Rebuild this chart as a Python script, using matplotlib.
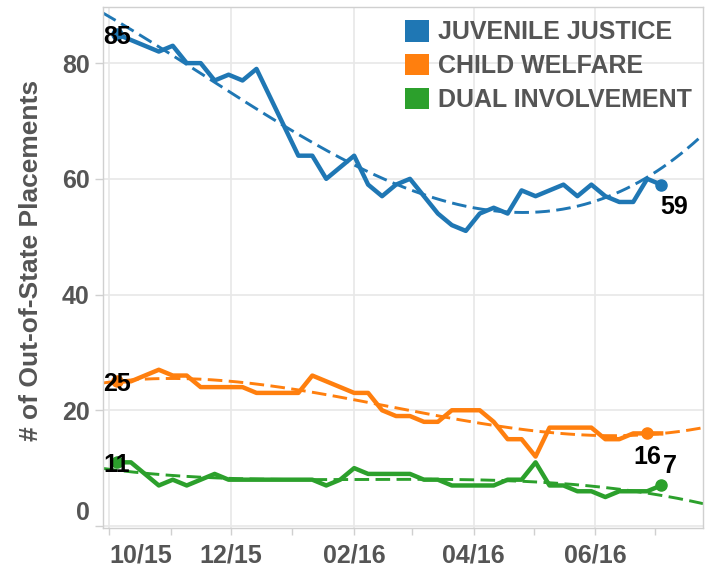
import numpy as np
import pandas as pd
import matplotlib.pyplot as plt
import matplotlib.dates as mdates
from matplotlib.patches import Patch

plt.rcParams['font.family'] = ['Liberation Sans', 'DejaVu Sans']
plt.rcParams['font.weight'] = 'bold'

# weekly counts, Oct 2015 - Jul 2016
weeks = pd.date_range("2015-10-05", periods=40, freq="7D")
juvenile = [85, 84, 83, 82, 83, 80, 80, 77, 78, 77, 79, 74, 69, 64, 64, 60, 62, 64, 59, 57,
            59, 60, 57, 54, 52, 51, 54, 55, 54, 58, 57, 58, 59, 57, 59, 57, 56, 56, 60, 59]
welfare = [25, 25, 26, 27, 26, 26, 24, 24, 24, 24, 23, 23, 23, 23, 26, 25, 24, 23, 23, 20,
           19, 19, 18, 18, 20, 20, 20, 18, 15, 15, 12, 17, 17, 17, 17, 15, 15, 16, 16, 16]
dual = [11, 11, 9, 7, 8, 7, 8, 9, 8, 8, 8, 8, 8, 8, 8, 7, 8, 10, 9, 9,
        9, 9, 8, 8, 7, 7, 7, 7, 8, 8, 11, 7, 7, 6, 6, 5, 6, 6, 6, 7]

names = ["JUVENILE JUSTICE", "CHILD WELFARE", "DUAL INVOLVEMENT"]
colors = ["#1f77b4", "#ff7f0e", "#2ca02c"]
trend_deg = [3, 3, 3]
end_marker_idx = [39, 38, 39]
end_offsets = [(9.5, -16), (0, -17), (6, 14)]

x_start = pd.Timestamp("2015-09-28")
x_end = pd.Timestamp("2016-07-25")
grey = "#555555"

fig = plt.figure(figsize=(7.12, 5.69), dpi=100)
ax = fig.add_axes([103 / 712, 1 - 528 / 569, 600 / 712, 521 / 569])

days = np.asarray((weeks - weeks[0]).days, dtype=float)
t = np.linspace((x_start - weeks[0]).days, (x_end - weeks[0]).days, 300)
t_dates = weeks[0] + pd.to_timedelta(t, unit="D")

for vals, c, deg, ei, off in zip([juvenile, welfare, dual], colors, trend_deg,
                                  end_marker_idx, end_offsets):
    ax.plot(weeks, vals, color=c, lw=3.2, zorder=3)
    # polynomial trend line
    coef = np.polyfit(days, vals, deg)
    ax.plot(t_dates, np.polyval(coef, t), color=c, lw=2.1, dashes=(5, 2.2), zorder=2)
    ax.plot(weeks[0], vals[0], "o", color=c, ms=8, zorder=4)
    ax.plot(weeks[ei], vals[ei], "o", color=c, ms=8, zorder=4)
    ax.annotate(str(vals[0]), xy=(weeks[0], vals[0]), xytext=(0, -2),
                textcoords="offset points", ha="center", va="center",
                fontsize=18, color="black", zorder=5)
    ax.annotate(str(vals[-1]), xy=(weeks[ei], vals[ei]), xytext=off,
                textcoords="offset points", ha="center", va="center",
                fontsize=18, color="black", zorder=5)

ax.set_xlim(x_start, x_end)
ax.set_ylim(-0.35, 89.7)

ax.xaxis.set_major_locator(mdates.MonthLocator(bymonth=[10, 12, 2, 4, 6]))
ax.xaxis.set_minor_locator(mdates.MonthLocator(bymonth=[11, 1, 3, 5, 7]))
ax.xaxis.set_major_formatter(mdates.DateFormatter("%m/%y"))
ax.set_yticks([0, 20, 40, 60, 80], labels=["", "20", "40", "60", "80"])
ax.annotate("0", xy=(0, 0), xycoords=("axes fraction", "data"), xytext=(-9.4, 9),
            textcoords="offset points", ha="right", va="center", fontsize=18, color=grey)

ax.tick_params(axis="y", length=6, width=1, color="#d0d0d0", pad=3.5,
               labelsize=18, labelcolor=grey)
ax.tick_params(axis="x", which="both", length=5, width=1, color="#d0d0d0", pad=6,
               labelsize=18, labelcolor=grey)
# first date label sits inside the plot edge
ax.xaxis.get_major_ticks()[0].label1.set_horizontalalignment("left")

ax.grid(True, which="major", color="#e8e8e8", lw=1.2, zorder=0)
ax.set_axisbelow(True)
for sp in ax.spines.values():
    sp.set_color("#d0d0d0")
    sp.set_linewidth(1)

fig.text(31 / 712, 1 - 260 / 569, "# of Out-of-State Placements", rotation=90,
         ha="center", va="center", fontsize=19, color=grey)

handles = [Patch(facecolor=c, edgecolor="none") for c in colors]
leg = ax.legend(handles, names, loc="upper left", bbox_to_anchor=(0.503, 0.975),
                frameon=False, fontsize=18, handlelength=0.95, handleheight=0.95,
                handletextpad=0.36, labelspacing=0.38, borderpad=0, borderaxespad=0)
for txt in leg.get_texts():
    txt.set_color(grey)

fig.savefig("out.png", dpi=100)
